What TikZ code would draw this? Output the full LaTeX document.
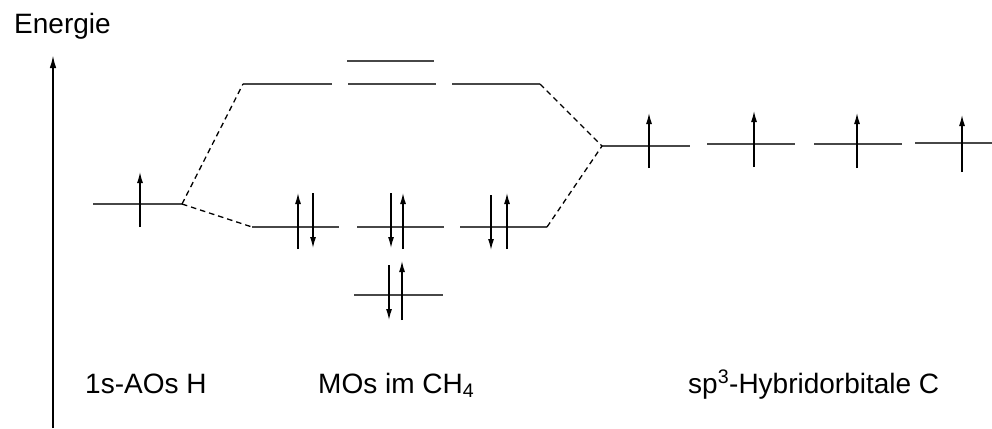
\documentclass[tikz,border=0pt]{standalone}
\usepackage{fontspec}
\setmainfont{Liberation Sans}
\usetikzlibrary{arrows.meta}
\begin{document}
\begin{tikzpicture}[x=1pt,y=-1pt,
  level/.style={line width=1.4pt, draw=black!72},
  conn/.style={line width=1.3pt, dash pattern=on 5.5pt off 4pt},
  spin/.style={line width=1.3pt, -{Latex[length=11pt,width=6pt]}},
  axisline/.style={line width=1.8pt, -{Latex[length=13pt,width=6.5pt]}},
  lbl/.style={font=\fontsize{28}{32}\selectfont, inner sep=0pt, anchor=base west}]
\useasboundingbox (0,0) rectangle (992,428);

% energy axis
\coordinate (axb) at (53,428);
\coordinate (axt) at (53,55);
\draw[axisline] (axb) -- (axt);
\node[lbl] (en) at (14,34) {Energie};

% H 1s level
\coordinate (h1l) at (93,204);  \coordinate (h1r) at (182,204);
\draw[level] (h1l) -- (h1r);
\coordinate (hs0) at (140,227); \coordinate (hs1) at (140,172);
\draw[spin] (hs0) -- (hs1);

% antibonding MOs
\coordinate (a0l) at (347,61);  \coordinate (a0r) at (434,61);
\coordinate (a1l) at (243,84);  \coordinate (a1r) at (332,84);
\coordinate (a2l) at (348,84);  \coordinate (a2r) at (436,84);
\coordinate (a3l) at (452,84);  \coordinate (a3r) at (540,84);
\draw[level] (a0l) -- (a0r);
\draw[level] (a1l) -- (a1r);
\draw[level] (a2l) -- (a2r);
\draw[level] (a3l) -- (a3r);

% bonding MOs
\coordinate (b1l) at (252,227); \coordinate (b1r) at (339,227);
\coordinate (b2l) at (357,227); \coordinate (b2r) at (444,227);
\coordinate (b3l) at (460,227); \coordinate (b3r) at (547,227);
\coordinate (b0l) at (354,295); \coordinate (b0r) at (443,295);
\draw[level] (b1l) -- (b1r);
\draw[level] (b2l) -- (b2r);
\draw[level] (b3l) -- (b3r);
\draw[level] (b0l) -- (b0r);

% electrons in bonding MOs
\coordinate (e1a) at (298,249); \coordinate (e1b) at (298,193);
\coordinate (e2a) at (313,193); \coordinate (e2b) at (313,248);
\draw[spin] (e1a) -- (e1b);
\draw[spin] (e2a) -- (e2b);
\coordinate (e3a) at (391,193); \coordinate (e3b) at (391,248);
\coordinate (e4a) at (403,249); \coordinate (e4b) at (403,193);
\draw[spin] (e3a) -- (e3b);
\draw[spin] (e4a) -- (e4b);
\coordinate (e5a) at (491,195); \coordinate (e5b) at (491,250);
\coordinate (e6a) at (507,249); \coordinate (e6b) at (507,193);
\draw[spin] (e5a) -- (e5b);
\draw[spin] (e6a) -- (e6b);
\coordinate (e7a) at (389,265); \coordinate (e7b) at (389,320);
\coordinate (e8a) at (402,320); \coordinate (e8b) at (402,261);
\draw[spin] (e7a) -- (e7b);
\draw[spin] (e8a) -- (e8b);

% sp3 hybrid orbitals
\coordinate (s1l) at (602,146); \coordinate (s1r) at (690,146);
\coordinate (s2l) at (707,144); \coordinate (s2r) at (795,144);
\coordinate (s3l) at (814,144); \coordinate (s3r) at (902,144);
\coordinate (s4l) at (915,143); \coordinate (s4r) at (992,143);
\draw[level] (s1l) -- (s1r);
\draw[level] (s2l) -- (s2r);
\draw[level] (s3l) -- (s3r);
\draw[level] (s4l) -- (s4r);
\coordinate (sa1) at (649,168); \coordinate (sb1) at (649,113);
\coordinate (sa2) at (754,167); \coordinate (sb2) at (754,111);
\coordinate (sa3) at (857,168); \coordinate (sb3) at (857,113);
\coordinate (sa4) at (962,172); \coordinate (sb4) at (962,115);
\draw[spin] (sa1) -- (sb1);
\draw[spin] (sa2) -- (sb2);
\draw[spin] (sa3) -- (sb3);
\draw[spin] (sa4) -- (sb4);

% correlation lines
\draw[conn] (h1r) -- (a1l);
\draw[conn] (h1r) -- (b1l);
\draw[conn] (a3r) -- (s1l);
\draw[conn] (b3r) -- (s1l);

% labels
\node[lbl] (lh) at (85,393) {1s-AOs H};
\node[lbl] (lm) at (318,393) {MOs im CH\textsubscript{4}};
\node[lbl] (lc) at (688,393) {sp\textsuperscript{3}-Hybridorbitale C};
\end{tikzpicture}
\end{document}
